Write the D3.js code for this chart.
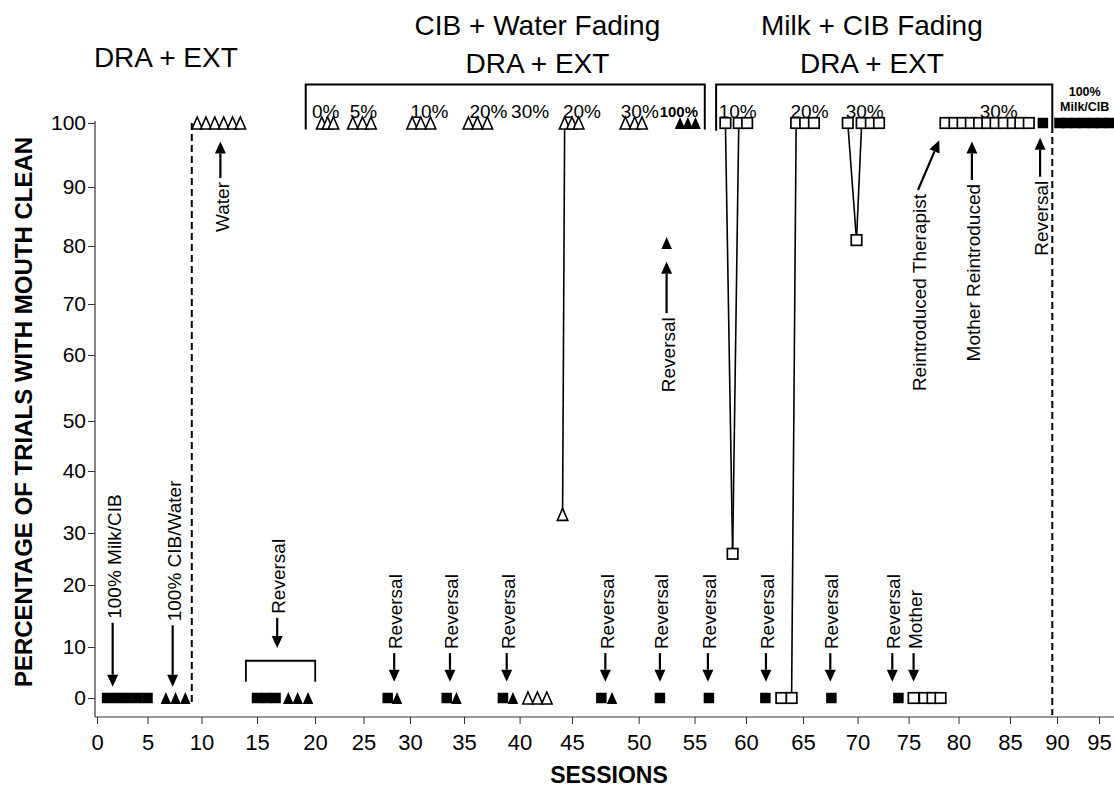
<!DOCTYPE html>
<html>
<head>
<meta charset="utf-8">
<script src="https://cdn.jsdelivr.net/npm/d3@7/dist/d3.min.js"></script>
<style>
  body { margin: 0; background: #fff; }
  text { font-family: "Liberation Sans", Arial, sans-serif; fill: #000; }
</style>
</head>
<body>
<script>
// tick labels
var sessionTicks = [0, 5, 10, 15, 20, 25, 30, 35, 40, 45, 50, 55, 60, 65, 70, 75, 80, 85, 90, 95];
var percentTicks = [0, 10, 20, 30, 40, 50, 60, 70, 80, 90, 100];

// [session, % of trials with mouth clean]
var filledSquares = [
  [1, 0], [2, 0], [3, 0], [4, 0], [5, 0],
  [15, 0], [15.8, 0], [16.6, 0],
  [27.6, 0], [33.4, 0], [38.5, 0], [47.2, 0], [51.9, 0], [56.4, 0], [61.7, 0], [67.6, 0], [74, 0],
  [88.5, 100],
  [90.3, 100], [91.2, 100], [92.2, 100], [93.2, 100], [94.3, 100], [95.3, 100], [96.3, 100]
];
var filledTriangles = [
  [6.7, 0], [7.6, 0], [8.5, 0],
  [17.7, 0], [18.5, 0], [19.4, 0],
  [28.6, 0], [34.3, 0], [39.4, 0], [48, 0],
  [52.5, 80.5],
  [53.7, 100], [54.4, 100], [55.1, 100]
];
var openTriangles = [
  [9.6, 100], [10.4, 100], [11.2, 100], [12, 100], [12.8, 100], [13.5, 100],
  [20.7, 100], [21.3, 100], [21.9, 100],
  [23.9, 100], [24.9, 100], [25.8, 100],
  [30.2, 100], [31, 100], [31.9, 100],
  [35.4, 100], [36.2, 100], [37.1, 100],
  [40.8, 0], [41.7, 0], [42.6, 0],
  [44.1, 33], [44.3, 100], [45, 100], [45.5, 100],
  [49, 100], [49.7, 100], [50.3, 100]
];
var openSquares = [
  [58, 100], [58.7, 26], [59.3, 100], [60.1, 100],
  [63.1, 0], [64, 0], [64.4, 100], [65.2, 100], [66, 100],
  [69.1, 100], [69.9, 81], [70.4, 100], [71.3, 100], [72.1, 100],
  [75.5, 0], [76.6, 0], [77.4, 0], [78.2, 0],
  [78.7, 100], [79.6, 100], [80.4, 100], [81.2, 100], [82, 100], [82.8, 100],
  [83.6, 100], [84.4, 100], [85.3, 100], [86.1, 100], [87, 100]
];
// pairs of sessions joined by a line
var triJoins = [[44.1, 44.3]];
var sqJoins = [[58, 58.7], [58.7, 59.3], [64, 64.4], [69.1, 69.9], [69.9, 70.4]];

// phase boundaries (sessions)
var phaseLines = [9.1, 89.5];

var phaseTitles = [
  { s: 6.7, rows: ["DRA + EXT"] },
  { s: 41.7, rows: ["CIB + Water Fading", "DRA + EXT"] },
  { s: 71.4, rows: ["Milk + CIB Fading", "DRA + EXT"] }
];
var stepLabels = [
  ["0%", 21.1], ["5%", 25], ["10%", 31.8], ["20%", 37.2], ["30%", 41], ["20%", 45.75],
  ["30%", 50.1], ["10%", 59.2], ["20%", 65.6], ["30%", 70.7], ["30%", 83.9]
];

// arrows: session of tail, value of tail, value (and session) of tip
var arrows = [
  { s: 1.55, from: 13.9, to: 2.2, label: "100% Milk/CIB" },
  { s: 7.33, from: 13.5, to: 2.2, label: "100% CIB/Water" },
  { s: 16.74, from: 14.7, to: 9.8, label: "Reversal" },
  { s: 28.3, from: 8.8, to: 3.2, label: "Reversal" },
  { s: 33.7, from: 8.8, to: 3.2, label: "Reversal" },
  { s: 38.84, from: 8.8, to: 3.2, label: "Reversal" },
  { s: 47.5, from: 8.8, to: 3.2, label: "Reversal" },
  { s: 51.9, from: 8.8, to: 3.2, label: "Reversal" },
  { s: 56.3, from: 8.8, to: 3.2, label: "Reversal" },
  { s: 61.75, from: 8.8, to: 3.2, label: "Reversal" },
  { s: 67.5, from: 8.8, to: 3.2, label: "Reversal" },
  { s: 73.4, from: 8.8, to: 3.2, label: "Reversal" },
  { s: 75.5, from: 8.8, to: 3.2, label: "Mother" },
  { s: 11.7, from: 91.4, to: 97.1, label: "Water" },
  { s: 52.5, from: 68.2, to: 77.3, label: "Reversal" },
  { s: 75.94, from: 89.5, to: 97.3, s2: 78.07, label: "Reintroduced Therapist" },
  { s: 81.3, from: 91.1, to: 97.1, label: "Mother Reintroduced" },
  { s: 88.2, from: 91.6, to: 97.7, label: "Reversal" }
];

var W = 1114, H = 790;
var svg = d3.select("body").append("svg")
  .attr("width", W)
  .attr("height", H);

// scales follow the (slightly uneven) tick spacing of the original figure
var x = d3.scaleLinear()
  .domain(sessionTicks)
  .range([97, 147.5, 201.5, 257, 315, 363.5, 410, 464, 519.6, 572, 638.7, 694.5, 746, 803, 857.6, 908.6, 958.5, 1010, 1057, 1099]);
var y = d3.scaleLinear()
  .domain(percentTicks)
  .range([698, 647, 585, 533, 471, 421, 355, 304, 246, 187, 123]);

var axisY = 717, axisX = 95;

// x axis
var gx = svg.append("g")
  .attr("transform", "translate(0," + axisY + ")")
  .call(d3.axisBottom(x).tickValues(sessionTicks).tickSize(7).tickSizeOuter(0));
gx.select(".domain").remove();
gx.attr("font-family", null).attr("font-size", null);
gx.selectAll("text").attr("y", 33).attr("dy", null).style("font-size", "22px");
gx.selectAll("line").attr("stroke", "#333");
svg.append("line")
  .attr("x1", axisX).attr("x2", W)
  .attr("y1", axisY).attr("y2", axisY)
  .attr("stroke", "#333").attr("stroke-width", 1.2);

// y axis
var gy = svg.append("g")
  .attr("transform", "translate(" + axisX + ",0)")
  .call(d3.axisLeft(y).tickValues(percentTicks).tickSize(7).tickPadding(2).tickSizeOuter(0));
gy.select(".domain").remove();
gy.attr("font-family", null).attr("font-size", null);
gy.selectAll("text").style("font-size", "21px");
gy.selectAll("line").attr("stroke", "#333");
svg.append("line")
  .attr("x1", axisX).attr("x2", axisX)
  .attr("y1", y(100) - 2).attr("y2", axisY)
  .attr("stroke", "#333").attr("stroke-width", 1.2);

// axis titles
svg.append("text")
  .attr("transform", "translate(24," + 412 + ") rotate(-90)")
  .attr("text-anchor", "middle")
  .attr("dy", "0.35em")
  .style("font-size", "24px")
  .style("font-weight", "bold")
  .text("PERCENTAGE OF TRIALS WITH MOUTH CLEAN");
svg.append("text")
  .attr("x", 609).attr("y", 783)
  .attr("text-anchor", "middle")
  .style("font-size", "23px")
  .style("font-weight", "bold")
  .text("SESSIONS");

// phase titles
phaseTitles.forEach(function (p) {
  var base = p.rows.length == 1 ? [67] : [35, 73];
  p.rows.forEach(function (r, i) {
    svg.append("text")
      .attr("x", x(p.s)).attr("y", base[i])
      .attr("text-anchor", "middle")
      .style("font-size", "28px")
      .text(r);
  });
});

// phase change lines (dashed)
svg.append("line")
  .attr("x1", x(phaseLines[0])).attr("x2", x(phaseLines[0]))
  .attr("y1", y(100)).attr("y2", 705)
  .attr("stroke", "#000").attr("stroke-width", 2).attr("stroke-dasharray", "7,4");
svg.append("line")
  .attr("x1", x(phaseLines[1])).attr("x2", x(phaseLines[1]))
  .attr("y1", 126).attr("y2", 715)
  .attr("stroke", "#000").attr("stroke-width", 2).attr("stroke-dasharray", "7,4");

// brackets over the fading phases
function bracket(s1, s2, top, bottom1, bottom2) {
  svg.append("path")
    .attr("d", "M" + x(s1) + "," + bottom1 + "V" + top + "H" + x(s2) + "V" + bottom2)
    .attr("fill", "none").attr("stroke", "#000").attr("stroke-width", 2);
}
bracket(19.2, 56.0, y(106), y(99), y(99));
bracket(57.1, phaseLines[1], y(106), y(98.8), y(99.5));
// reversal bracket near baseline
svg.append("path")
  .attr("d", "M" + x(14) + "," + y(3.2) + "V" + y(7.3) + "H" + x(20.02) + "V" + y(3.2))
  .attr("fill", "none").attr("stroke", "#000").attr("stroke-width", 1.8);

// fading step labels
stepLabels.forEach(function (d) {
  svg.append("text")
    .attr("x", x(d[1])).attr("y", 118)
    .attr("text-anchor", "middle")
    .style("font-size", "19px")
    .text(d[0]);
});
svg.append("text")
  .attr("x", x(53.6)).attr("y", 117)
  .attr("text-anchor", "middle")
  .style("font-size", "15px").style("font-weight", "bold")
  .text("100%");
svg.append("text")
  .attr("x", x(93.3)).attr("y", 96)
  .attr("text-anchor", "middle")
  .style("font-size", "12.5px").style("font-weight", "bold")
  .text("100%");
svg.append("text")
  .attr("x", x(93.3)).attr("y", 111)
  .attr("text-anchor", "middle")
  .style("font-size", "12.5px").style("font-weight", "bold")
  .text("Milk/CIB");

// joining lines
function find(arr, s) {
  return arr.filter(function (d) { return d[0] == s; })[0];
}
function joins(arr, pairs) {
  pairs.forEach(function (p) {
    var a = find(arr, p[0]), b = find(arr, p[1]);
    svg.append("line")
      .attr("x1", x(a[0])).attr("y1", y(a[1]))
      .attr("x2", x(b[0])).attr("y2", y(b[1]))
      .attr("stroke", "#000").attr("stroke-width", 1.6);
  });
}
joins(openTriangles, triJoins);
joins(openSquares, sqJoins);

// markers
var sq = 10.5, tw = 10.5, th = 12;
function tri(d) {
  var cx = x(d[0]), cy = y(d[1]);
  return "M" + cx + "," + (cy - th / 2) + "L" + (cx + tw / 2) + "," + (cy + th / 2) +
    "L" + (cx - tw / 2) + "," + (cy + th / 2) + "Z";
}

svg.append("g").selectAll("rect")
  .data(filledSquares)
  .enter()
  .append("rect")
  .attr("x", function (d) { return x(d[0]) - sq / 2; })
  .attr("y", function (d) { return y(d[1]) - sq / 2; })
  .attr("width", sq).attr("height", sq)
  .attr("fill", "#000");

svg.append("g").selectAll("rect")
  .data(openSquares)
  .enter()
  .append("rect")
  .attr("x", function (d) { return x(d[0]) - sq / 2; })
  .attr("y", function (d) { return y(d[1]) - sq / 2; })
  .attr("width", sq).attr("height", sq)
  .attr("fill", "#fff").attr("stroke", "#000").attr("stroke-width", 1.7);

svg.append("g").selectAll("path")
  .data(filledTriangles)
  .enter()
  .append("path")
  .attr("d", tri)
  .attr("fill", "#000");

svg.append("g").selectAll("path")
  .data(openTriangles)
  .enter()
  .append("path")
  .attr("d", tri)
  .attr("fill", "#fff").attr("stroke", "#000").attr("stroke-width", 1.6);

// annotation arrows with vertical labels
function drawArrow(a) {
  var x1 = x(a.s), y1 = y(a.from);
  var x2 = x(a.s2 != null ? a.s2 : a.s), y2 = y(a.to);
  var dx = x2 - x1, dy = y2 - y1, len = Math.sqrt(dx * dx + dy * dy);
  var ux = dx / len, uy = dy / len;
  var hl = 12, hw = 5.5;
  var bx = x2 - ux * hl, by = y2 - uy * hl;
  svg.append("line")
    .attr("x1", x1).attr("y1", y1).attr("x2", bx).attr("y2", by)
    .attr("stroke", "#000").attr("stroke-width", 2.2);
  svg.append("path")
    .attr("d", "M" + x2 + "," + y2 +
      "L" + (bx - uy * hw) + "," + (by + ux * hw) +
      "L" + (bx + uy * hw) + "," + (by - ux * hw) + "Z")
    .attr("fill", "#000");

  var down = y2 > y1;
  svg.append("text")
    .attr("transform", "translate(" + (x1 + 1.5) + "," + (down ? y1 - 4 : y1 + 4) + ") rotate(-90)")
    .attr("text-anchor", down ? "start" : "end")
    .attr("dy", "0.35em")
    .style("font-size", "19px")
    .text(a.label);
}
arrows.forEach(drawArrow);
</script>
</body>
</html>
